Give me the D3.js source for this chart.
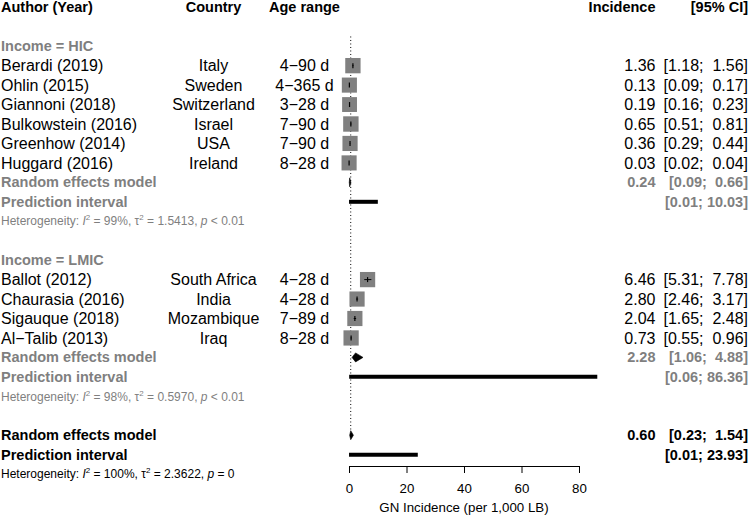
<!DOCTYPE html>
<html>
<head>
<meta charset="utf-8">
<script src="https://cdn.jsdelivr.net/npm/d3@7/dist/d3.min.js"></script>
<style>
  html, body { margin: 0; padding: 0; background: #fff; }
  svg { display: block; }
  text { font-family: "Liberation Sans", Arial, Helvetica, sans-serif; white-space: pre; }
</style>
</head>
<body>
<svg id="chart" width="749" height="517"></svg>
<script>
// ---------------- Data ----------------
const studies   = ["Berardi (2019)", "Ohlin (2015)", "Giannoni (2018)", "Bulkowstein (2016)", "Greenhow (2014)", "Huggard (2016)",
                   "Ballot (2012)", "Chaurasia (2016)", "Sigauque (2018)", "Al\u2212Talib (2013)"];
const countries = ["Italy", "Sweden", "Switzerland", "Israel", "USA", "Ireland",
                   "South Africa", "India", "Mozambique", "Iraq"];
const ageRanges = ["4\u221290 d", "4\u2212365 d", "3\u221228 d", "7\u221290 d", "7\u221290 d", "8\u221228 d",
                   "4\u221228 d", "4\u221228 d", "7\u221289 d", "8\u221228 d"];
const incomeGroup = ["HIC", "HIC", "HIC", "HIC", "HIC", "HIC", "LMIC", "LMIC", "LMIC", "LMIC"];
const incidence = [1.36, 0.13, 0.19, 0.65, 0.36, 0.03, 6.46, 2.80, 2.04, 0.73];
const ciLower   = [1.18, 0.09, 0.16, 0.51, 0.29, 0.02, 5.31, 2.46, 1.65, 0.55];
const ciUpper   = [1.56, 0.17, 0.23, 0.81, 0.44, 0.04, 7.78, 3.17, 2.48, 0.96];
const weights   = [10.2, 9.9, 9.6, 10.3, 10.0, 9.9, 10.1, 10.0, 10.0, 10.1];

const subgroups   = ["HIC", "LMIC"];
const subEst      = [0.24, 2.28];
const subLower    = [0.09, 1.06];
const subUpper    = [0.66, 4.88];
const subPiLower  = [0.01, 0.06];
const subPiUpper  = [10.03, 86.36];
const subI2       = ["99%", "98%"];
const subTau2     = ["1.5413", "0.5970"];
const subP        = ["< 0.01", "< 0.01"];

const overallEst   = 0.60;
const overallLower = 0.23;
const overallUpper = 1.54;
const overallPi    = [0.01, 23.93];
const overallHet   = ["100%", "2.3622", "= 0"];

const xTicks = [0, 20, 40, 60, 80];
const xLabel = "GN Incidence (per 1,000 LB)";

// ---------------- Layout ----------------
const GRAY = "#7f7f7f";
const svg = d3.select("#chart");
const x = d3.scaleLinear().domain([0, 80]).range([349, 579]);
const rowH = 19.45;
const y = d3.scaleLinear().domain([0, 24]).range([7.3, 7.3 + 24 * rowH]);
const size = d3.scaleSqrt().domain([0, d3.max(weights)]).range([0, 15.4]);

const col = { left: 1, country: 213.5, age: 304.5, inc: 655.5, ci: 748 };
const REG = 16, BOLD = 14.5, SMALL = 12;

const fmt = v => v.toFixed(2);
const ciStr = (lo, up) => "[" + fmt(lo) + "; " + fmt(up).padStart(5, " ") + "]";

function txt(xp, row, s, opts = {}) {
  return svg.append("text")
    .attr("x", xp).attr("y", y(row)).attr("dy", "0.35em")
    .attr("text-anchor", opts.anchor || "start")
    .attr("font-size", opts.size || REG)
    .attr("font-weight", opts.bold ? "bold" : "normal")
    .attr("fill", opts.color || "#000")
    .text(s);
}

function het(row, i2, tau2, pTxt, color) {
  const t = svg.append("text")
    .attr("x", col.left).attr("y", y(row)).attr("dy", "0.35em")
    .attr("font-size", SMALL).attr("fill", color);
  t.append("tspan").text("Heterogeneity: ");
  t.append("tspan").attr("font-style", "italic").text("I");
  t.append("tspan").attr("font-size", 8).attr("dy", -5).text("2");
  t.append("tspan").attr("dy", 5).text(" = " + i2 + ", \u03c4");
  t.append("tspan").attr("font-size", 8).attr("dy", -5).text("2");
  t.append("tspan").attr("dy", 5).text(" = " + tau2 + ", ");
  t.append("tspan").attr("font-style", "italic").text("p");
  t.append("tspan").text(" " + pTxt);
}

function diamond(row, est, lo, up) {
  const cy = y(row), h = 4.5;
  svg.append("path")
    .attr("d", `M${x(lo)},${cy} L${x(est)},${cy - h} L${x(up)},${cy} L${x(est)},${cy + h} Z`)
    .attr("fill", "#000").attr("stroke", "#000").attr("stroke-width", 0.6);
}

function piLine(row, lo, up) {
  svg.append("line")
    .attr("x1", x(lo)).attr("x2", x(up))
    .attr("y1", y(row)).attr("y2", y(row))
    .attr("stroke", "#000").attr("stroke-width", 4);
}

// Reference (random effects) dotted line
svg.append("line")
  .attr("x1", x(overallEst)).attr("x2", x(overallEst))
  .attr("y1", y(1.5)).attr("y2", y(22) - 4.5)
  .attr("stroke", "#000").attr("stroke-width", 1)
  .attr("stroke-dasharray", "1,2.5");

// Headers
txt(col.left, 0, "Author (Year)", { bold: true, size: BOLD });
txt(col.country, 0, "Country", { bold: true, size: BOLD, anchor: "middle" });
txt(col.age, 0, "Age range", { bold: true, size: BOLD, anchor: "middle" });
txt(col.inc, 0, "Incidence", { bold: true, size: BOLD, anchor: "end" });
txt(col.ci, 0, "[95% CI]", { bold: true, size: BOLD, anchor: "end" });

// Subgroups
let row = 2;
subgroups.forEach((g, gi) => {
  txt(col.left, row, "Income = " + g, { bold: true, size: BOLD, color: GRAY });
  row++;
  studies.forEach((s, i) => {
    if (incomeGroup[i] !== g) return;
    txt(col.left, row, s);
    txt(col.country, row, countries[i], { anchor: "middle" });
    txt(col.age, row, ageRanges[i], { anchor: "middle" });
    txt(col.inc, row, fmt(incidence[i]), { anchor: "end" });
    txt(col.ci, row, ciStr(ciLower[i], ciUpper[i]), { anchor: "end" });
    const sz = size(weights[i]);
    svg.append("rect")
      .attr("x", x(incidence[i]) - sz / 2).attr("y", y(row) - sz / 2)
      .attr("width", sz).attr("height", sz)
      .attr("fill", "#808080");
    svg.append("line")
      .attr("x1", x(ciLower[i])).attr("x2", x(ciUpper[i]))
      .attr("y1", y(row)).attr("y2", y(row))
      .attr("stroke", "#000").attr("stroke-width", 1);
    svg.append("line")
      .attr("x1", x(incidence[i])).attr("x2", x(incidence[i]))
      .attr("y1", y(row) - 2.5).attr("y2", y(row) + 2.5)
      .attr("stroke", "#000").attr("stroke-width", 1.2);
    row++;
  });
  txt(col.left, row, "Random effects model", { bold: true, size: BOLD, color: GRAY });
  txt(col.inc, row, fmt(subEst[gi]), { bold: true, size: BOLD, color: GRAY, anchor: "end" });
  txt(col.ci, row, ciStr(subLower[gi], subUpper[gi]), { bold: true, size: BOLD, color: GRAY, anchor: "end" });
  diamond(row, subEst[gi], subLower[gi], subUpper[gi]);
  row++;
  txt(col.left, row, "Prediction interval", { bold: true, size: BOLD, color: GRAY });
  txt(col.ci, row, ciStr(subPiLower[gi], subPiUpper[gi]), { bold: true, size: BOLD, color: GRAY, anchor: "end" });
  piLine(row, subPiLower[gi], subPiUpper[gi]);
  row++;
  het(row, subI2[gi], subTau2[gi], subP[gi], GRAY);
  row += 2;
});

// Overall
row = 22;
txt(col.left, row, "Random effects model", { bold: true, size: BOLD });
txt(col.inc, row, fmt(overallEst), { bold: true, size: BOLD, anchor: "end" });
txt(col.ci, row, ciStr(overallLower, overallUpper), { bold: true, size: BOLD, anchor: "end" });
diamond(row, overallEst, overallLower, overallUpper);
row++;
txt(col.left, row, "Prediction interval", { bold: true, size: BOLD });
txt(col.ci, row, ciStr(overallPi[0], overallPi[1]), { bold: true, size: BOLD, anchor: "end" });
piLine(row, overallPi[0], overallPi[1]);
row++;
het(row, overallHet[0], overallHet[1], overallHet[2], "#000");

// Axis
const axis = svg.append("g")
  .attr("transform", "translate(0,466)")
  .call(d3.axisBottom(x).tickValues(xTicks).tickSize(7).tickSizeOuter(0).tickPadding(11));
axis.select(".domain").attr("stroke", "#000");
axis.selectAll(".tick line").attr("stroke", "#000");
axis.selectAll(".tick text")
  .attr("font-family", "Liberation Sans, Arial, sans-serif")
  .attr("font-size", 13.3).attr("fill", "#000");

svg.append("text")
  .attr("x", (x(0) + x(80)) / 2).attr("y", 507).attr("dy", "0.35em")
  .attr("text-anchor", "middle").attr("font-size", 13.3)
  .text(xLabel);
</script>
</body>
</html>
